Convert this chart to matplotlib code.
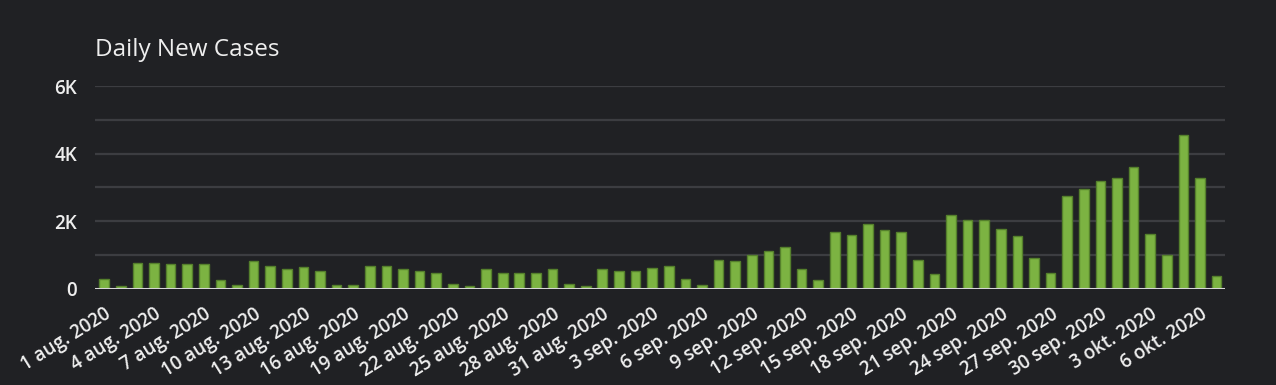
import pandas as pd
import matplotlib.pyplot as plt

# -------------------------
# DATA
# -------------------------
start_date = "2020-08-01"
daily_cases = [
    307, 100, 780, 780, 730, 730, 730, 257, 110, 820,
    690, 585, 640, 545, 130, 110, 685, 685, 585, 535,
    485, 158, 80, 585, 485, 485, 485, 585, 158, 80,
    585, 535, 535, 634, 683, 307, 109, 871, 822, 1010,
    1109, 1248, 584, 257, 1673, 1584, 1921, 1733, 1673, 871,
    446, 2200, 2049, 2049, 1764, 1576, 916, 483, 2759, 2946,
    3182, 3281, 3606, 1626, 1005, 4562, 3281, 394,
]
month_names = {8: "aug.", 9: "sep.", 10: "okt."}
y_ticks = [0, 2000, 4000, 6000]
y_tick_labels = ["0", "2K", "4K", "6K"]

dates = pd.date_range(start_date, periods=len(daily_cases), freq="D")
labels = [f"{d.day} {month_names[d.month]} {d.year}" for d in dates]

# -------------------------
# STYLE
# -------------------------
bg = "#202124"
text_col = "#eeeeee"
plt.rcParams["font.family"] = ["Open Sans", "DejaVu Sans"]

fig = plt.figure(figsize=(12.76, 3.85), dpi=100, facecolor=bg)
ax = fig.add_axes([0.0745, 0.2494, 0.8855, 0.5272], facecolor=bg)

x = list(range(len(daily_cases)))
ax.bar(x, daily_cases, width=0.58, color="#7cb342", edgecolor="#55802c",
       linewidth=1.0, zorder=3)

# grid every 1K, labels every 2K
for v in range(1000, 7000, 1000):
    ax.axhline(v, color="#3c3d41", linewidth=1.6, zorder=1)
ax.axhline(0, color="#d6d6d6", linewidth=2.2, zorder=4)

ax.set_ylim(0, 6000)
ax.set_xlim(-0.55, len(daily_cases) - 0.5)
ax.set_yticks(y_ticks)
ax.set_yticklabels(y_tick_labels, color=text_col, fontsize=13.5,
                   fontweight="semibold")

ax.set_xticks(x[::3])
ax.set_xticklabels(labels[::3], rotation=32, ha="right", rotation_mode="anchor",
                   color=text_col, fontsize=13.5, fontweight="semibold")

ax.tick_params(axis="both", length=0)
ax.tick_params(axis="y", pad=13)
ax.tick_params(axis="x", pad=11)
for s in ax.spines.values():
    s.set_visible(False)

fig.text(0.0745, 0.87, "Daily New Cases", color=text_col, fontsize=17.5,
         fontweight="medium", ha="left", va="center")

fig.savefig("out.png", dpi=100, facecolor=bg)
